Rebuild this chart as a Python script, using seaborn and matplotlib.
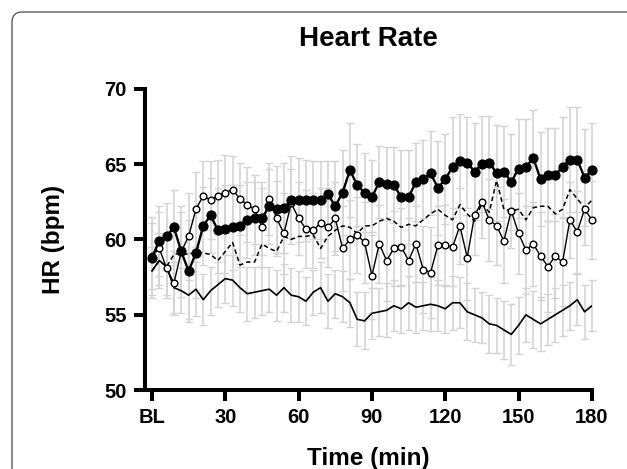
import numpy as np
import pandas as pd
import matplotlib
matplotlib.use("Agg")
import matplotlib.pyplot as plt
from matplotlib.patches import FancyBboxPatch
import seaborn as sns

# time points every 3 min, BL = 0
time_min = list(range(0, 181, 3))

# filled circles
hr_filled = [58.8, 59.9, 60.2, 60.8, 59.2, 57.9, 59.1, 60.9, 61.6, 60.6,
             60.7, 60.8, 60.9, 61.3, 61.4, 61.4, 62.2, 62.0, 62.1, 62.6,
             62.6, 62.6, 62.6, 62.6, 63.0, 62.2, 63.1, 64.6, 63.6, 63.1,
             62.8, 63.8, 63.7, 63.6, 62.8, 62.8, 63.8, 64.0, 64.4, 63.4,
             64.0, 64.8, 65.2, 65.1, 64.5, 65.0, 65.1, 64.4, 64.5, 63.8,
             64.7, 64.8, 65.4, 64.0, 64.3, 64.3, 64.8, 65.3, 65.3, 64.1,
             64.6]
# open circles
hr_open = [58.9, 59.4, 58.1, 57.1, 59.2, 60.2, 62.0, 62.9, 62.6, 62.9,
           63.1, 63.3, 62.7, 62.3, 62.0, 60.8, 62.7, 61.4, 60.4, 62.4,
           61.4, 60.7, 60.6, 61.1, 60.8, 61.4, 59.4, 60.0, 60.3, 59.8,
           57.6, 59.7, 58.6, 59.4, 59.5, 58.6, 59.7, 58.0, 57.8, 59.6,
           59.6, 59.5, 60.9, 58.8, 61.6, 62.5, 61.3, 60.9, 59.9, 61.9,
           60.4, 59.3, 59.7, 58.9, 58.2, 58.9, 58.5, 61.3, 60.5, 62.0,
           61.3]
# dashed line
hr_dashed = [57.9, 58.6, 58.2, 59.0, 59.1, 59.0, 59.2, 59.1, 59.0, 58.6,
             59.2, 59.8, 58.3, 58.5, 58.5, 59.7, 59.4, 59.2, 60.2, 60.0,
             60.2, 60.2, 60.3, 59.4, 60.2, 60.6, 60.9, 60.8, 60.4, 60.9,
             60.9, 61.2, 61.4, 61.2, 60.8, 61.0, 60.9, 61.3, 61.7, 62.0,
             61.6, 61.3, 62.3, 61.7, 61.2, 62.4, 61.8, 63.9, 62.0, 61.9,
             62.0, 61.3, 62.1, 62.2, 62.2, 61.7, 62.0, 63.3, 62.7, 62.1,
             62.6]
# solid line
hr_solid = [57.9, 58.6, 58.2, 56.8, 56.6, 56.3, 56.7, 56.0, 56.6, 57.0,
            57.4, 57.3, 56.8, 56.4, 56.5, 56.6, 56.7, 56.3, 56.8, 56.3,
            56.2, 55.9, 56.5, 56.8, 55.9, 56.4, 56.2, 55.8, 54.7, 54.6,
            55.1, 55.2, 55.3, 55.6, 55.4, 55.8, 55.5, 55.6, 55.7, 55.6,
            55.4, 55.8, 55.8, 55.2, 55.0, 54.8, 54.4, 54.3, 54.0, 53.7,
            54.3, 55.0, 54.7, 54.4, 54.7, 55.0, 55.3, 55.6, 56.0, 55.2,
            55.6]

# SD estimates (gray bars)
sd_filled = [2.7, 2.3, 2.2, 2.5, 3.0, 3.4, 3.0, 2.6, 2.5, 2.8,
             2.9, 2.8, 2.7, 2.5, 2.4, 2.4, 2.5, 2.9, 3.0, 2.9,
             2.8, 2.7, 2.6, 2.6, 2.2, 3.0, 2.8, 3.1, 2.7, 2.6,
             2.5, 2.4, 2.4, 2.5, 3.1, 3.1, 2.6, 2.6, 2.8, 3.1,
             3.0, 3.3, 3.1, 3.0, 3.2, 3.2, 3.1, 3.2, 3.0, 3.2,
             3.3, 3.2, 3.2, 3.1, 3.1, 3.1, 3.3, 3.5, 3.5, 3.2,
             3.1]
sd_open = [2.2, 2.4, 2.0, 2.1, 2.6, 2.9, 2.5, 2.3, 2.6, 2.4,
           2.5, 2.2, 2.4, 2.5, 2.3, 2.6, 2.4, 2.5, 2.7, 2.3,
           2.4, 2.6, 2.5, 2.3, 2.6, 2.4, 2.8, 2.6, 2.5, 2.7,
           2.9, 2.6, 2.7, 2.5, 2.6, 2.8, 2.5, 2.9, 3.0, 2.6,
           2.7, 2.6, 2.5, 2.8, 2.6, 2.4, 2.7, 2.6, 2.8, 2.5,
           2.7, 2.9, 2.8, 2.9, 3.0, 2.8, 2.9, 2.5, 2.7, 2.4,
           2.6]
sd_solid = [1.6, 1.8, 1.9, 1.7, 1.5, 1.6, 1.8, 1.7, 1.6, 1.5,
            1.6, 1.7, 1.6, 1.8, 1.7, 1.6, 1.5, 1.7, 1.6, 1.8,
            1.7, 1.6, 1.5, 1.7, 1.8, 1.6, 1.7, 1.6, 1.8, 1.9,
            1.7, 1.6, 1.8, 1.7, 1.6, 1.8, 1.7, 1.6, 1.8, 1.7,
            1.6, 1.8, 1.7, 1.9, 1.8, 1.7, 1.9, 1.8, 1.9, 2.0,
            1.9, 1.8, 1.9, 1.8, 1.7, 1.8, 1.7, 1.6, 1.7, 1.8,
            1.7]

xticks = [0, 30, 60, 90, 120, 150, 180]
xtick_labels = ["BL", "30", "60", "90", "120", "150", "180"]
yticks = [50, 55, 60, 65, 70]

df = pd.DataFrame({"time": time_min, "filled": hr_filled, "open": hr_open,
                   "dashed": hr_dashed, "solid": hr_solid})

sns.set_style("ticks")
plt.rcParams["font.family"] = ["Liberation Sans", "DejaVu Sans"]
plt.rcParams.update({"text.color": "black", "axes.labelcolor": "black",
                     "axes.edgecolor": "black", "xtick.color": "black",
                     "ytick.color": "black"})

fig = plt.figure(figsize=(6.27, 4.69), dpi=100)
ax = fig.add_axes([0.231, 0.168, 0.713, 0.643])

# error bars first, behind the lines
gray = "#d4d4d4"
for vals, sd in [(hr_solid, sd_solid), (hr_open, sd_open), (hr_filled, sd_filled)]:
    ax.errorbar(time_min, vals, yerr=sd, fmt="none", ecolor=gray,
                elinewidth=1.2, capsize=2.8, capthick=1.0, zorder=1, clip_on=False)

sns.lineplot(data=df, x="time", y="solid", color="black", lw=1.2, ax=ax, zorder=3)
sns.lineplot(data=df, x="time", y="dashed", color="black", lw=1.1, ax=ax, zorder=3,
             linestyle=(0, (3, 2)))
sns.lineplot(data=df, x="time", y="open", color="black", lw=1.0, marker="o",
             markersize=4.8, markerfacecolor="white", markeredgecolor="black",
             markeredgewidth=1.0, ax=ax, zorder=4, clip_on=False)
sns.lineplot(data=df, x="time", y="filled", color="black", lw=1.7, marker="o",
             markersize=6.6, markerfacecolor="black", markeredgecolor="black",
             ax=ax, zorder=5, clip_on=False)

ax.set_xlim(-2.9, 180)
ax.set_ylim(50, 70)
ax.set_xticks(xticks)
ax.set_xticklabels(xtick_labels)
ax.set_yticks(yticks)
sns.despine(ax=ax)
for side in ["left", "bottom"]:
    ax.spines[side].set_linewidth(2.9)
    ax.spines[side].set_color("black")
    ax.spines[side].set_capstyle("projecting")
ax.tick_params(width=2.9, length=8, labelsize=14.5, pad=5, colors="black")
for lbl in ax.get_xticklabels() + ax.get_yticklabels():
    lbl.set_fontweight("bold")

ax.set_xlabel("Time (min)", fontsize=17.5, fontweight="bold", labelpad=14, color="black")
ax.set_ylabel("HR (bpm)", fontsize=17.5, fontweight="bold", labelpad=28, color="black")
fig.text(0.587, 0.917, "Heart Rate", ha="center", va="center",
         fontsize=20, fontweight="bold", color="black")

# rounded frame around the panel
frame = FancyBboxPatch((0.12, -0.5), 7.0, 5.07, boxstyle="round,pad=0,rounding_size=0.1",
                       transform=fig.dpi_scale_trans, facecolor="none",
                       edgecolor="#5a5a5a", lw=1.0)
fig.patches.append(frame)

fig.savefig("out.png", dpi=100)
